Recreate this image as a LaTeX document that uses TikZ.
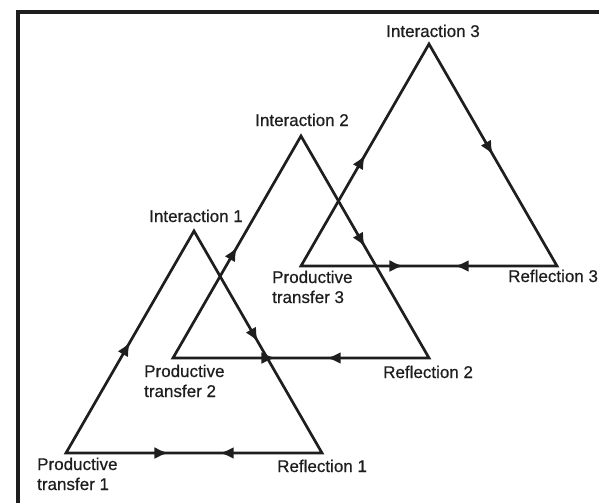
\documentclass[tikz,border=0pt]{standalone}
\usepackage{fontspec}
\setmainfont{Liberation Sans}
\newfontfamily\lblfont[FakeBold=0.6]{Liberation Sans}
\usetikzlibrary{arrows.meta,decorations.markings}
\definecolor{ink}{HTML}{1E1E1E}
\tikzset{
  tip/.tip={Latex[length=14pt,width=12pt]},
  tri/.style={draw=ink, line width=2.7pt, line join=miter,
    postaction={decorate},
    decoration={markings,
      mark=at position 0.1667 with {\arrow{tip}},
      mark=at position 0.5 with {\arrow{tip}},
      mark=at position 0.8 with {\arrow{tip}},
      mark=at position 0.8667 with {\arrowreversed{tip}}}},
  lbl/.style={inner sep=0pt, text=ink, font=\lblfont\fontsize{17}{20}\selectfont},
  frame/.style={draw=ink, line width=3.4pt}
}
\begin{document}
\begin{tikzpicture}[x=1pt,y=-1pt]
\useasboundingbox (0,0) rectangle (599,503);
\draw[frame] (18,503) -- (18,12) -- (599,12);
% vertices
\coordinate (P1) at (66,453);  \coordinate (R1) at (322,453); \coordinate (I1) at (194,231);
\coordinate (P2) at (173,358); \coordinate (R2) at (429,358); \coordinate (I2) at (301,136);
\coordinate (P3) at (301,266); \coordinate (R3) at (557,266); \coordinate (I3) at (429,44);
% triangles
\draw[tri] (P1) -- (I1) -- (R1) -- cycle;
\draw[tri] (P2) -- (I2) -- (R2) -- cycle;
\draw[tri] (P3) -- (I3) -- (R3) -- cycle;
% labels
\node[lbl, anchor=base] (tI1) at (196,222) {Interaction 1};
\node[lbl, anchor=base] (tI2) at (302,126) {Interaction 2};
\node[lbl, anchor=base] (tI3) at (433,37) {Interaction 3};
\node[lbl, anchor=base west, align=left] (tP1) at (37,490) {Productive\\transfer 1};
\node[lbl, anchor=base west, align=left] (tP2) at (144,397) {Productive\\transfer 2};
\node[lbl, anchor=base west, align=left] (tP3) at (272,303) {Productive\\transfer 3};
\node[lbl, anchor=base west] (tR1) at (277,472) {Reflection 1};
\node[lbl, anchor=base west] (tR2) at (383,378) {Reflection 2};
\node[lbl, anchor=base west] (tR3) at (508,282) {Reflection 3};
\end{tikzpicture}
\end{document}
